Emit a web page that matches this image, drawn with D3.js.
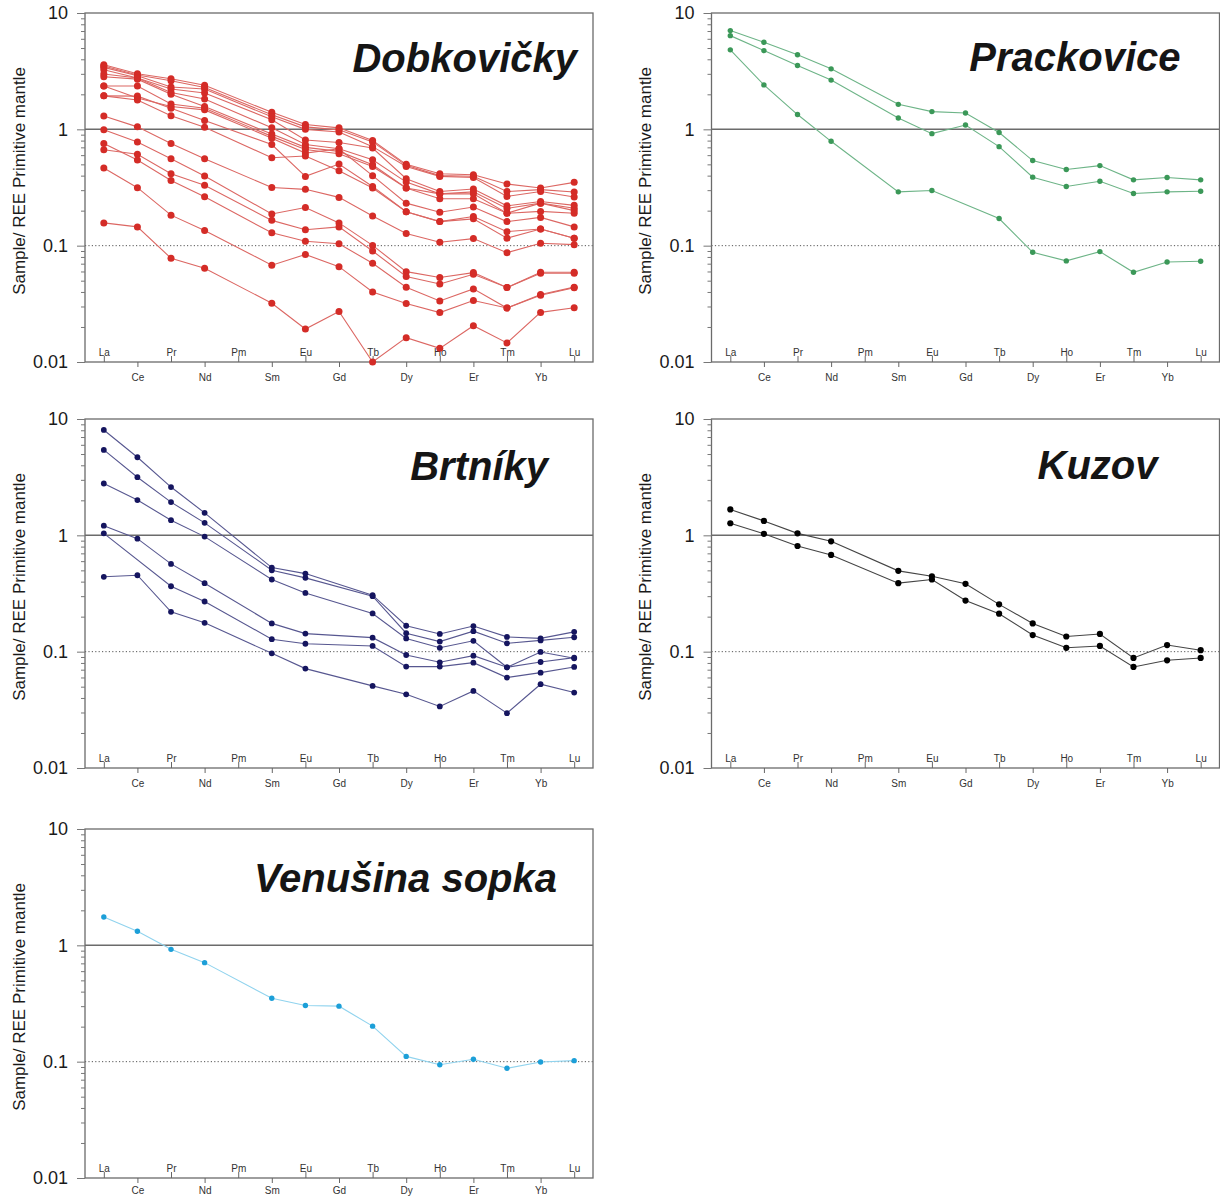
<!DOCTYPE html>
<html><head><meta charset="utf-8">
<script src="https://cdn.jsdelivr.net/npm/d3@7"></script>
<style>body{margin:0;background:#fff}svg{display:block}</style>
</head><body>
<svg id="c" width="1220" height="1198"></svg>
<script>
// REE elements (x categories)
const elements = ["La","Ce","Pr","Nd","Pm","Sm","Eu","Gd","Tb","Dy","Ho","Er","Tm","Yb","Lu"];
const upperLabels = ["La","Pr","Pm","Eu","Tb","Ho","Tm","Lu"];
const lowerLabels = ["Ce","Nd","Sm","Gd","Dy","Er","Yb"];
const yMajor = [0.01, 0.1, 1, 10];
const yMajorLabels = ["0.01", "0.1", "1", "10"];
const yMinor = [0.02,0.03,0.04,0.05,0.06,0.07,0.08,0.09,0.2,0.3,0.4,0.5,0.6,0.7,0.8,0.9,2,3,4,5,6,7,8,9];
const yTitle = "Sample/ REE Primitive mantle";
const panelTitles = ["Dobkovičky","Prackovice","Brtníky","Kuzov","Venušina sopka"];

// Sample / primitive mantle values, order La..Lu (null = not plotted)
const dobkovicky = [
  [3.59,3.00,2.72,2.39,null,1.40,1.10,1.03,0.80,0.50,0.415,0.407,0.339,0.313,0.35],
  [3.50,2.93,2.62,2.29,null,1.335,1.05,0.99,0.78,0.49,0.40,0.395,0.292,0.303,0.289],
  [3.41,2.89,2.31,2.22,null,1.28,1.00,0.95,0.71,0.48,0.394,0.386,0.265,0.292,0.262],
  [3.25,2.76,2.22,2.05,null,1.21,0.81,0.77,0.69,0.376,0.292,0.307,0.22,0.24,0.222],
  [2.99,2.76,2.07,1.82,null,1.03,0.74,0.68,0.548,0.352,0.279,0.29,0.209,0.232,0.21],
  [2.83,2.70,2.00,1.57,null,0.91,0.70,0.646,0.496,0.313,0.279,0.279,0.19,0.232,0.20],
  [2.36,2.36,1.65,1.52,null,0.87,0.67,0.617,0.48,0.313,0.253,0.253,0.19,0.197,0.19],
  [2.36,1.86,1.57,1.47,null,0.84,0.625,0.68,0.40,0.232,0.194,0.215,0.161,0.175,0.145],
  [1.94,1.93,1.52,1.19,null,0.74,0.394,0.503,0.323,0.196,0.161,0.178,0.132,0.139,0.116],
  [1.94,1.79,1.31,1.04,null,0.57,0.59,0.44,0.313,0.196,0.161,0.170,0.116,0.139,0.116],
  [1.30,1.05,0.757,0.56,null,0.316,0.305,0.26,0.18,0.127,0.107,0.115,0.087,0.105,0.102],
  [0.99,0.78,0.558,0.397,null,0.187,0.213,0.157,0.1005,0.0598,0.0532,0.0587,0.0437,0.059,0.059],
  [0.668,0.61,0.415,0.33,null,0.165,0.137,0.145,0.090,0.0544,0.0468,0.0568,0.0437,0.058,0.058],
  [0.757,0.545,0.364,0.263,null,0.129,0.109,0.104,0.0705,0.0439,0.0335,0.0425,0.0291,0.038,0.044],
  [0.465,0.315,0.183,0.135,null,0.068,0.084,0.066,0.040,0.0318,0.0266,0.0338,0.0291,0.0375,0.0435],
  [0.157,0.145,0.078,0.064,null,0.032,0.0192,0.0272,0.010,0.0162,0.0131,0.0205,0.0146,0.0267,0.0293]
];
const prackovice = [
  [7.06,5.6,4.37,3.31,null,1.64,1.42,1.38,0.94,0.539,0.451,0.488,0.368,0.385,0.368],
  [6.39,4.75,3.54,2.65,null,1.25,0.918,1.09,0.71,0.388,0.323,0.358,0.281,0.29,0.294],
  [4.82,2.41,1.34,0.789,null,0.29,0.298,null,0.171,0.0877,0.074,0.0889,0.059,0.0724,0.0734]
];
const brtniky = [
  [8.05,4.69,2.6,1.56,null,0.528,0.469,null,0.306,0.167,0.142,0.166,0.134,0.13,0.148],
  [5.42,3.16,1.93,1.28,null,0.501,0.431,null,0.30,0.144,0.122,0.15,0.118,0.125,0.133],
  [2.79,2.01,1.35,0.975,null,0.417,0.32,null,0.213,0.13,0.108,0.124,0.0734,0.0994,0.0877],
  [1.21,0.936,0.568,0.388,null,0.175,0.143,null,0.132,0.0936,0.081,0.0924,0.0734,0.0815,0.0889],
  [1.04,null,0.365,0.27,null,0.128,0.117,null,0.112,0.0744,0.0744,0.0805,0.0599,0.066,0.0739],
  [0.44,0.454,0.22,0.177,null,0.0968,0.0715,null,0.0508,0.043,0.0338,0.046,0.0296,0.0525,0.0445]
];
const kuzov = [
  [1.67,1.33,1.04,0.888,null,0.495,0.445,0.383,0.255,0.175,0.135,0.142,0.0883,0.114,0.103],
  [1.27,1.03,0.81,0.678,null,0.388,0.417,0.275,0.212,0.139,0.108,0.112,0.0739,0.0843,0.0883]
];
const venusina = [
  [1.75,1.32,0.924,0.71,null,0.351,0.304,0.30,0.202,0.111,0.0942,0.105,0.0877,0.0994,0.102]
];

const panels = [
  {title: panelTitles[0], data: dobkovicky, left: 85, top: 13, dot: "#d42c27", line: "#dc6763", r: 3.5, tRight: 16, tBase: 59, pad: 7},
  {title: panelTitles[1], data: prackovice, left: 711.5, top: 13, dot: "#3b9858", line: "#6db487", r: 2.7, tRight: 39, tBase: 58, pad: 7},
  {title: panelTitles[2], data: brtniky, left: 85, top: 419, dot: "#15155f", line: "#575790", r: 2.9, tRight: 45, tBase: 61, pad: 7},
  {title: panelTitles[3], data: kuzov, left: 711.5, top: 419, dot: "#000000", line: "#444444", r: 3.1, tRight: 62, tBase: 60, pad: 7},
  {title: panelTitles[4], data: venusina, left: 85, top: 829, dot: "#1c9fd8", line: "#90d3ee", r: 2.7, tRight: 36, tBase: 63, pad: 4}
];

const W = 508, H = 349;
const svg = d3.select("#c");
const FONT = "'Liberation Sans', Arial, Helvetica, sans-serif";

panels.forEach(p => {
  const g = svg.append("g");
  const x = d3.scalePoint().domain(elements).range([p.left, p.left + W]).padding(0.56);
  const y = d3.scaleLog().domain([0.01, 10]).range([p.top + H, p.top]);

  // reference lines
  g.append("line").attr("x1", p.left).attr("x2", p.left + W).attr("y1", y(1)).attr("y2", y(1))
    .attr("stroke", "#6b6b6b").attr("stroke-width", 1.5);
  g.append("line").attr("x1", p.left).attr("x2", p.left + W).attr("y1", y(0.1)).attr("y2", y(0.1))
    .attr("stroke", "#555").attr("stroke-width", 1).attr("stroke-dasharray", "1.2,2.2");

  // frame
  g.append("rect").attr("x", p.left).attr("y", p.top).attr("width", W).attr("height", H)
    .attr("fill", "none").attr("stroke", "#6b6b6b").attr("stroke-width", 1.3);

  // y axis: minor and major ticks
  const yMin = g.append("g").attr("transform", `translate(${p.left},0)`)
    .call(d3.axisLeft(y).tickValues(yMinor).tickSize(4).tickFormat(""));
  const yMaj = g.append("g").attr("transform", `translate(${p.left},0)`)
    .call(d3.axisLeft(y).tickValues(yMajor).tickSize(8).tickPadding(9).tickFormat((d, i) => yMajorLabels[i]));
  [yMin, yMaj].forEach(a => {
    a.select(".domain").remove();
    a.selectAll("line").attr("stroke", "#777");
  });
  yMaj.selectAll("text").attr("font-family", FONT).attr("font-size", 18).attr("fill", "#1a1a1a");

  // x axis labels: alternating inside / outside
  const xUp = g.append("g").attr("transform", `translate(0,${p.top + H})`)
    .call(d3.axisTop(x).tickValues(upperLabels).tickSize(6).tickPadding(0));
  const xDown = g.append("g").attr("transform", `translate(0,${p.top + H})`)
    .call(d3.axisBottom(x).tickValues(lowerLabels).tickSize(5).tickPadding(p.pad));
  [xUp, xDown].forEach(a => {
    a.select(".domain").remove();
    a.selectAll("line").attr("stroke", "#666");
    a.selectAll("text").attr("font-family", FONT).attr("font-size", 10).attr("fill", "#333");
  });

  // y title
  g.append("text")
    .attr("transform", `translate(${p.left - 66},${p.top + 168}) rotate(-90)`)
    .attr("text-anchor", "middle").attr("dy", "0.35em")
    .attr("font-family", FONT).attr("font-size", 17).attr("fill", "#1a1a1a")
    .text(yTitle);

  // panel title
  g.append("text")
    .attr("x", p.left + W - p.tRight).attr("y", p.top + p.tBase)
    .attr("text-anchor", "end")
    .attr("font-family", FONT).attr("font-size", 40).attr("font-weight", "bold").attr("font-style", "italic")
    .attr("fill", "#151515")
    .text(p.title);

  // series
  const line = d3.line().x(d => x(d.el)).y(d => y(d.v));
  const series = p.data.map(row => row.map((v, i) => ({el: elements[i], v})).filter(d => d.v != null));
  g.append("g").selectAll("path").data(series).join("path")
    .attr("d", line).attr("fill", "none").attr("stroke", p.line).attr("stroke-width", 1.1);
  g.append("g").selectAll("g").data(series).join("g")
    .selectAll("circle").data(d => d).join("circle")
    .attr("cx", d => x(d.el)).attr("cy", d => y(d.v)).attr("r", p.r).attr("fill", p.dot);
});
</script>
</body></html>
